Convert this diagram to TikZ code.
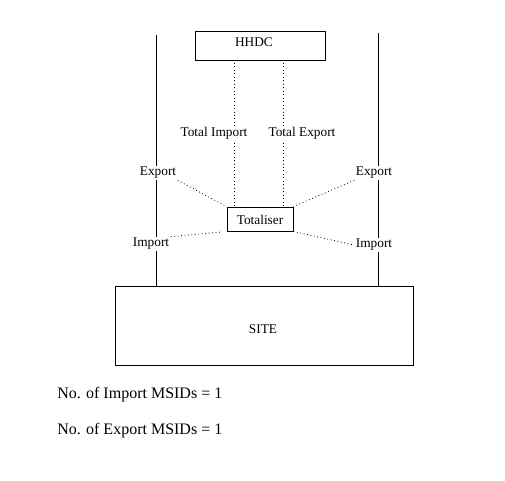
\documentclass[tikz,border=0pt]{standalone}
\usepackage{fontspec}
\setmainfont{Liberation Serif}
\begin{document}
\begin{tikzpicture}[x=0.75pt,y=-0.75pt,
  lbl/.style={fill=white,inner sep=1pt,font=\fontsize{10}{12}\selectfont},
  txt/.style={inner sep=0pt,font=\fontsize{10}{12}\selectfont},
  box/.style={draw,line width=0.75pt,inner sep=0pt},
  dot/.style={dotted,line width=0.6pt},
  solid line/.style={line width=0.75pt}]
\fill[white] (0,0) rectangle (505,480);
\useasboundingbox (0,0) rectangle (505,480);
% boxes
\node[box,minimum width=97.5pt,minimum height=21.75pt] (hhdc) at (260,45.5) {};
\node[txt] (hhdctxt) at (254,42) {HHDC};
\node[box,minimum width=49.5pt,minimum height=18pt] (tot) at (260,219) {};
\node[txt] (tottxt) at (260,220) {Totaliser};
\node[box,minimum width=223.5pt,minimum height=59.25pt] (site) at (264,325.5) {};
\node[txt] (sitetxt) at (263,329) {SITE};
% vertical lines
\coordinate (lt) at (156,35);
\coordinate (rt) at (378,33);
\draw[solid line] (lt) -- (lt |- site.north);
\draw[solid line] (rt) -- (rt |- site.north);
% dotted verticals
\coordinate (d1t) at (234,63);
\coordinate (d2t) at (283,63);
\draw[dot] (d1t) -- (d1t |- tot.north);
\draw[dot] (d2t) -- (d2t |- tot.north);
% labels
\node[lbl] (totimp) at (214,133) {Total Import};
\node[lbl] (totexp) at (302,133) {Total Export};
\node[lbl] (expL) at (158,173) {Export};
\node[lbl] (expR) at (374,173) {Export};
\node[lbl] (impL) at (151,244) {Import};
\node[lbl] (impR) at (374,245) {Import};
% dotted connectors
\draw[dot] (expL.south east) -- (tot.north west);
\draw[dot] (expR.south west) -- (tot.north east);
\draw[dot,shorten >=4pt] (impL.north east) -- (tot.south west);
\draw[dot] (tot.south east) -- (impR.west);
% bottom text
\node[anchor=west,inner sep=0pt,font=\fontsize{12}{14}\selectfont] (t1) at (57,395) {No. of Import MSIDs = 1};
\node[anchor=west,inner sep=0pt,font=\fontsize{12}{14}\selectfont] (t2) at (57,431) {No. of Export MSIDs = 1};
\end{tikzpicture}
\end{document}
